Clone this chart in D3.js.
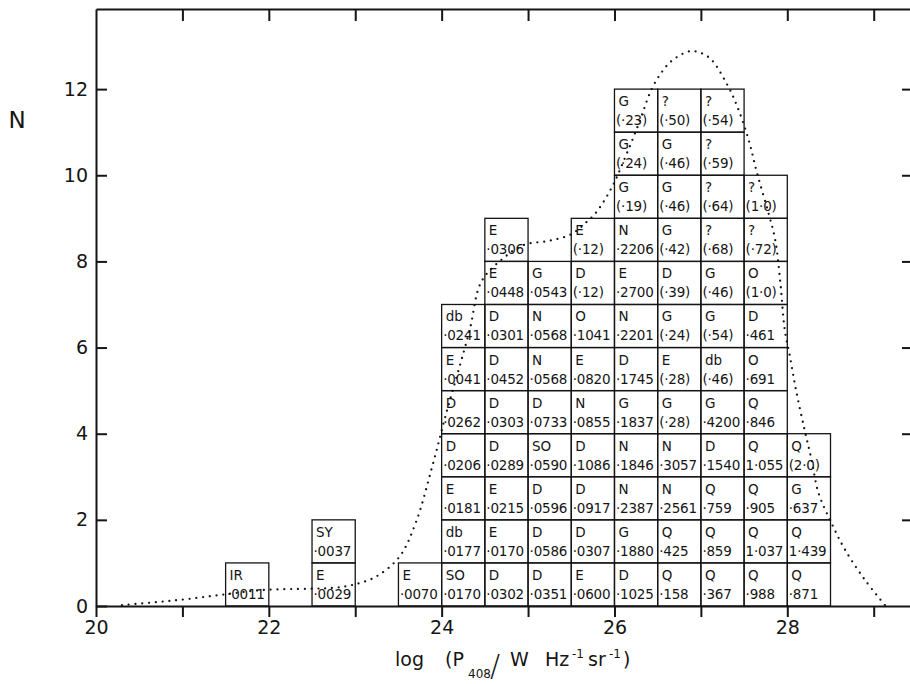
<!DOCTYPE html>
<html>
<head>
<meta charset="utf-8">
<script src="https://cdn.jsdelivr.net/npm/d3@7/dist/d3.min.js"></script>
<style>
  html, body { margin: 0; padding: 0; background: #fff; }
  svg { display: block; }
  text { fill: #151515; font-family: "DejaVu Sans", sans-serif; }
</style>
</head>
<body>
<svg id="chart" width="910" height="684"></svg>
<script>
// Histogram bins: lower edge of each 0.5-wide bin in log P408
const binStart = [21.5, 22.5, 23.5, 24.0, 24.5, 25.0, 25.5, 26.0, 26.5, 27.0, 27.5, 28.0];

// Source type for each stacked box, bottom to top
const binTypes = [
  ["IR"],
  ["E", "SY"],
  ["E"],
  ["SO", "db", "E", "D", "D", "E", "db"],
  ["D", "E", "E", "D", "D", "D", "D", "E", "E"],
  ["D", "D", "D", "SO", "D", "N", "N", "G"],
  ["E", "D", "D", "D", "N", "E", "O", "D", "E"],
  ["D", "G", "N", "N", "G", "D", "N", "E", "N", "G", "G", "G"],
  ["Q", "Q", "N", "N", "G", "E", "G", "D", "G", "G", "G", "?"],
  ["Q", "Q", "Q", "D", "G", "db", "G", "G", "?", "?", "?", "?"],
  ["Q", "Q", "Q", "Q", "Q", "O", "D", "O", "?", "?"],
  ["Q", "Q", "G", "Q"]
];

// Redshift printed under each type, bottom to top
const binRedshifts = [
  ["·0011"],
  ["·0029", "·0037"],
  ["·0070"],
  ["·0170", "·0177", "·0181", "·0206", "·0262", "·0041", "·0241"],
  ["·0302", "·0170", "·0215", "·0289", "·0303", "·0452", "·0301", "·0448", "·0306"],
  ["·0351", "·0586", "·0596", "·0590", "·0733", "·0568", "·0568", "·0543"],
  ["·0600", "·0307", "·0917", "·1086", "·0855", "·0820", "·1041", "(·12)", "(·12)"],
  ["·1025", "·1880", "·2387", "·1846", "·1837", "·1745", "·2201", "·2700", "·2206", "(·19)", "(·24)", "(·23)"],
  ["·158", "·425", "·2561", "·3057", "(·28)", "(·28)", "(·24)", "(·39)", "(·42)", "(·46)", "(·46)", "(·50)"],
  ["·367", "·859", "·759", "·1540", "·4200", "(·46)", "(·54)", "(·46)", "(·68)", "(·64)", "(·59)", "(·54)"],
  ["·988", "1·037", "·905", "1·055", "·846", "·691", "·461", "(1·0)", "(·72)", "(1·0)"],
  ["·871", "1·439", "·637", "(2·0)"]
];

// Smooth expected distribution (dotted curve)
const curveX = [20.30, 20.70, 21.05, 21.45, 21.93, 22.47, 22.74, 22.97, 23.24, 23.51, 23.70,
  23.89, 24.05, 24.32, 24.46, 24.70, 24.95, 25.25, 25.50, 25.67, 25.79, 25.97, 26.10, 26.28,
  26.43, 26.55, 26.66, 26.88, 27.09, 27.30, 27.42, 27.55, 27.65, 27.78, 27.86, 27.92, 27.97,
  28.03, 28.10, 28.20, 28.28, 28.36, 28.51, 28.67, 28.90, 29.13];
const curveY = [0.02, 0.09, 0.16, 0.26, 0.37, 0.40, 0.42, 0.49, 0.68, 1.14, 1.93,
  3.23, 4.45, 6.37, 7.53, 8.05, 8.38, 8.48, 8.63, 8.90, 9.14, 9.72, 10.30, 11.19,
  12.00, 12.40, 12.65, 12.88, 12.74, 12.12, 11.60, 10.84, 10.05, 9.14, 8.50, 7.50, 6.42,
  5.80, 5.02, 4.09, 3.40, 2.63, 1.93, 1.30, 0.60, 0.02];

const xTicks = [20, 21, 22, 23, 24, 25, 26, 27, 28, 29];
const xTickLabels = [20, 22, 24, 26, 28];
const yTicks = [0, 2, 4, 6, 8, 10, 12];

const svg = d3.select("#chart");
const ink = "#151515";

const x = d3.scaleLinear().domain([20, 29.42]).range([96, 910]);
const y = d3.scaleLinear().domain([0, 13.86]).range([606, 9]);
const binWidth = 0.5;

// Stacked boxes
const boxes = [];
binStart.forEach((b, i) => {
  binTypes[i].forEach((t, j) => {
    boxes.push({ x0: b, level: j, type: t, z: binRedshifts[i][j] });
  });
});

const g = svg.append("g").attr("class", "boxes");
const cell = g.selectAll("g.cell").data(boxes).join("g").attr("class", "cell");
cell.append("rect")
  .attr("x", d => x(d.x0))
  .attr("y", d => y(d.level + 1))
  .attr("width", d => x(d.x0 + binWidth) - x(d.x0))
  .attr("height", d => y(d.level) - y(d.level + 1))
  .attr("fill", "none")
  .attr("stroke", ink)
  .attr("stroke-width", 1.3);
cell.append("text")
  .attr("x", d => x(d.x0) + 4)
  .attr("y", d => y(d.level + 1) + 17)
  .attr("font-size", 13.5)
  .text(d => d.type);
cell.append("text")
  .attr("x", d => x(d.x0) + 1.5)
  .attr("y", d => y(d.level + 1) + 36)
  .attr("font-size", 13.5)
  .attr("letter-spacing", -0.2)
  .text(d => d.z);

// Dotted curve
const curvePts = curveX.map((v, i) => [v, curveY[i]]);
svg.append("path")
  .attr("d", d3.line().x(d => x(d[0])).y(d => y(d[1])).curve(d3.curveCatmullRom.alpha(0.5))(curvePts))
  .attr("fill", "none")
  .attr("stroke", ink)
  .attr("stroke-width", 2.3)
  .attr("stroke-linecap", "round")
  .attr("stroke-dasharray", "0 6.8");

// Axes
function styleAxis(sel) {
  sel.selectAll("path.domain").attr("stroke", ink).attr("stroke-width", 2);
  sel.selectAll(".tick line").attr("stroke", ink).attr("stroke-width", 2);
  sel.selectAll(".tick text").attr("fill", ink)
    .attr("font-family", "DejaVu Sans, sans-serif").attr("font-size", 19);
}

svg.append("g")
  .attr("transform", `translate(0,${y(0)})`)
  .call(d3.axisBottom(x).tickValues(xTicks).tickSize(11).tickPadding(4).tickSizeOuter(0)
    .tickFormat(d => xTickLabels.includes(d) ? d : ""))
  .call(styleAxis);

svg.append("g")
  .attr("transform", `translate(${x(20)},0)`)
  .call(d3.axisLeft(y).tickValues(yTicks).tickSize(-11).tickPadding(8).tickSizeOuter(0))
  .call(styleAxis);

svg.append("g")
  .attr("transform", `translate(0,${y(13.86)})`)
  .call(d3.axisTop(x).tickValues(xTicks.slice(1)).tickSize(-12).tickSizeOuter(0).tickFormat(""))
  .call(styleAxis);

const right = svg.append("g")
  .attr("transform", `translate(${x(29.42)},0)`)
  .call(d3.axisRight(y).tickValues(yTicks.slice(1)).tickSize(-8).tickSizeOuter(0).tickFormat(""))
  .call(styleAxis);
right.select("path.domain").remove();

// Axis titles
svg.append("text")
  .attr("x", 17).attr("y", 128)
  .attr("text-anchor", "middle")
  .attr("font-size", 23)
  .text("N");

const xt = svg.append("text").attr("y", 666).attr("font-size", 19);
xt.append("tspan").attr("x", 395).text("log");
xt.append("tspan").attr("x", 445).text("(P");
xt.append("tspan").attr("x", 468).attr("y", 678).attr("font-size", 12).text("408");
xt.append("tspan").attr("x", 490).attr("y", 676).attr("font-size", 30).attr("font-weight", 200).text("/");
xt.append("tspan").attr("x", 510).attr("y", 666).text("W");
xt.append("tspan").attr("x", 545).text("Hz");
xt.append("tspan").attr("x", 572).attr("y", 658).attr("font-size", 12).text("-1");
xt.append("tspan").attr("x", 588).attr("y", 666).text("sr");
xt.append("tspan").attr("x", 609).attr("y", 658).attr("font-size", 12).text("-1");
xt.append("tspan").attr("x", 623).attr("y", 666).text(")");
</script>
</body>
</html>
